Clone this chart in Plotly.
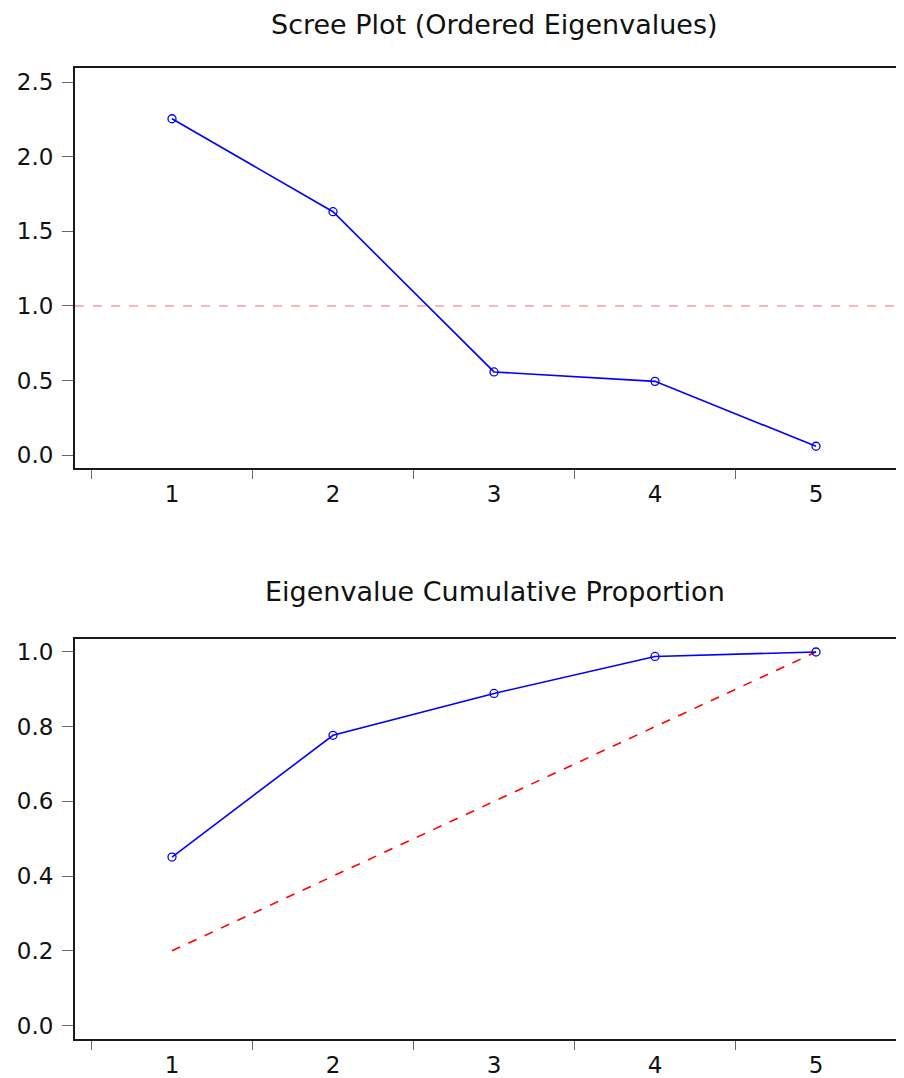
import plotly.graph_objects as go
from plotly.subplots import make_subplots

components = [1, 2, 3, 4, 5]
eigenvalues = [2.255, 1.632, 0.558, 0.495, 0.060]
cumulative = [0.451, 0.777, 0.889, 0.988, 1.000]
equal_cumulative = [0.2, 0.4, 0.6, 0.8, 1.0]
reference_level = 1.0

top_title = "Scree Plot (Ordered Eigenvalues)"
bottom_title = "Eigenvalue Cumulative Proportion"

# page has an 8px body margin; work in page pixels and convert
OFF = 8
W, H = 904 - OFF, 1078 - OFF
ml = 75 - OFF
mt = 68 - OFF
mb = H - (1042.7 - OFF)
mr = 0
ph = H - mt - mb

def py(page_pix):
    return (H - mb - (page_pix - OFF)) / ph

def px(page_pix):
    return ((page_pix - OFF) - ml) / (W - ml - mr)

fig = make_subplots(rows=2, cols=1, vertical_spacing=0.0)

font = "DejaVu Sans"

marker = dict(symbol="circle-open", size=8, color="#0000ff",
              line=dict(width=1.3, color="#0000ff"))

fig.add_trace(go.Scatter(x=components, y=eigenvalues, mode="lines+markers",
                         line=dict(color="#0000ff", width=1.6), marker=marker,
                         showlegend=False), row=1, col=1)
fig.add_hline(y=reference_level, line=dict(color="#f07070", width=1, dash="dash"),
              row=1, col=1)

fig.add_trace(go.Scatter(x=components, y=equal_cumulative, mode="lines",
                         line=dict(color="#ff0000", width=1.6, dash="dash"),
                         showlegend=False), row=2, col=1)
fig.add_trace(go.Scatter(x=components, y=cumulative, mode="lines+markers",
                         line=dict(color="#0000ff", width=1.6), marker=marker,
                         showlegend=False), row=2, col=1)

xr = [0.3975, 5.5465]
xcommon = dict(range=xr, tickmode="array", tickvals=components,
               ticktext=[str(c) for c in components], ticks="",
               showgrid=False, zeroline=False, showline=True, linecolor="#1a1a1a",
               linewidth=2, mirror=True,
               tickfont=dict(family=font, size=23, color="#111"),
               ticklabelstandoff=4,
               minor=dict(tickmode="array", tickvals=[0.5, 1.5, 2.5, 3.5, 4.5, 5.5],
                          ticks="outside", ticklen=9, tickwidth=1, tickcolor="#666",
                          showgrid=False))
ycommon = dict(showgrid=False, zeroline=False, showline=True, linecolor="#1a1a1a",
               linewidth=2, ticks="outside", ticklen=11, tickwidth=1, tickcolor="#666",
               tickfont=dict(family=font, size=23, color="#111"),
               ticklabelstandoff=4)

top_dom = [py(470), 1.0]
bot_dom = [0.0, py(640.7)]

fig.update_layout(
    width=W, height=H,
    margin=dict(l=ml, r=mr, t=mt, b=mb),
    paper_bgcolor="white", plot_bgcolor="white",
    xaxis=dict(**xcommon, domain=[0, 1], anchor="y"),
    xaxis2=dict(**xcommon, domain=[0, 1], anchor="y2"),
    yaxis=dict(**ycommon, domain=top_dom, range=[-0.089, 2.595],
               tickvals=[0.0, 0.5, 1.0, 1.5, 2.0, 2.5], tickformat=".1f"),
    yaxis2=dict(**ycommon, domain=bot_dom, range=[-0.036, 1.036],
                tickvals=[0.0, 0.2, 0.4, 0.6, 0.8, 1.0], tickformat=".1f"),
    annotations=[
        dict(text=top_title, xref="paper", yref="paper", x=px(494),
             y=py(24), xanchor="center", yanchor="middle", showarrow=False,
             font=dict(family=font, size=27, color="#111")),
        dict(text=bottom_title, xref="paper", yref="paper", x=px(495),
             y=py(593), xanchor="center", yanchor="middle", showarrow=False,
             font=dict(family=font, size=27, color="#111")),
    ],
)

fig.write_html("out.html")
